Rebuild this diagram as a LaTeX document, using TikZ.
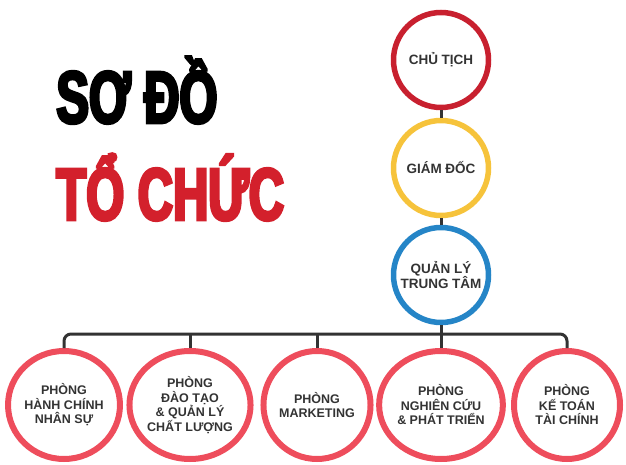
\documentclass[tikz,border=0pt]{standalone}
\usepackage{fontspec}
\setmainfont{Liberation Sans}
\newfontfamily\titlefont[FakeStretch=0.66,BoldFeatures={FakeBold=4}]{Liberation Sans}
\newfontfamily\labelfont{Liberation Sans}
\usepackage{tikz}
\usetikzlibrary{shapes, positioning}
\usepackage{xcolor}
\definecolor{titlered}{HTML}{D3202C}
\definecolor{ctred}{HTML}{C8202F}
\definecolor{gdyellow}{HTML}{F6C33B}
\definecolor{qlblue}{HTML}{2585C7}
\definecolor{deptred}{HTML}{EE4D5C}
\definecolor{linkgray}{HTML}{333333}
\definecolor{textgray}{HTML}{333333}

\begin{document}
\begin{tikzpicture}[x=1pt, y=-1pt, thick,
    top/.style={circle, draw, line width=5.5pt, minimum size=95pt, inner sep=0pt, align=center, text=textgray, font=\labelfont\bfseries\fontsize{13.5}{15.5}\selectfont},
    dept/.style={ellipse, draw=deptred, line width=6pt, minimum width=106pt, minimum height=108pt, inner sep=0pt, align=center, text=textgray, font=\labelfont\bfseries\fontsize{12.5}{14.5}\selectfont},
    heading/.style={anchor=base west, inner sep=0pt, font=\titlefont\bfseries\fontsize{74}{74}\selectfont},
    link/.style={draw=linkgray, line width=3pt}]
    \useasboundingbox (0,0) rectangle (626,465);

    % tiêu đề
    \node[heading, text=black] (title1) at (56,123) {SƠ ĐỒ};
    \node[heading, text=titlered] (title2) at (56,220) {TỔ CHỨC};

    % cấp trên
    \node[top, draw=ctred] (ct) at (441,60) {CHỦ TỊCH};
    \node[top, draw=gdyellow] (gd) at (441,168) {GIÁM ĐỐC};
    \node[top, draw=qlblue] (ql) at (441,275) {QUẢN LÝ\\TRUNG TÂM};

    % phòng ban
    \node[dept] (p1) at (64,405) {PHÒNG\\HÀNH CHÍNH\\NHÂN SỰ};
    \node[dept] (p2) at (190,405) {PHÒNG\\ĐÀO TẠO\\\& QUẢN LÝ\\CHẤT LƯỢNG};
    \node[dept] (p3) at (317,405) {PHÒNG\\MARKETING};
    \node[dept] (p4) at (441,405) {PHÒNG\\NGHIÊN CỨU\\\& PHÁT TRIỂN};
    \node[dept] (p5) at (567,405) {PHÒNG\\KẾ TOÁN\\TÀI CHÍNH};

    % đường nối
    \coordinate (bus) at (441,334);
    \draw[link] (ct) -- (gd);
    \draw[link] (gd) -- (ql);
    \draw[link] (ql) -- (bus);
    \draw[link, rounded corners=7pt] (p1.north) |- (bus) -| (p5.north);
    \foreach \p in {p2,p3,p4}
        \draw[link] (\p.north) -- (\p.north |- bus);
\end{tikzpicture}
\end{document}
